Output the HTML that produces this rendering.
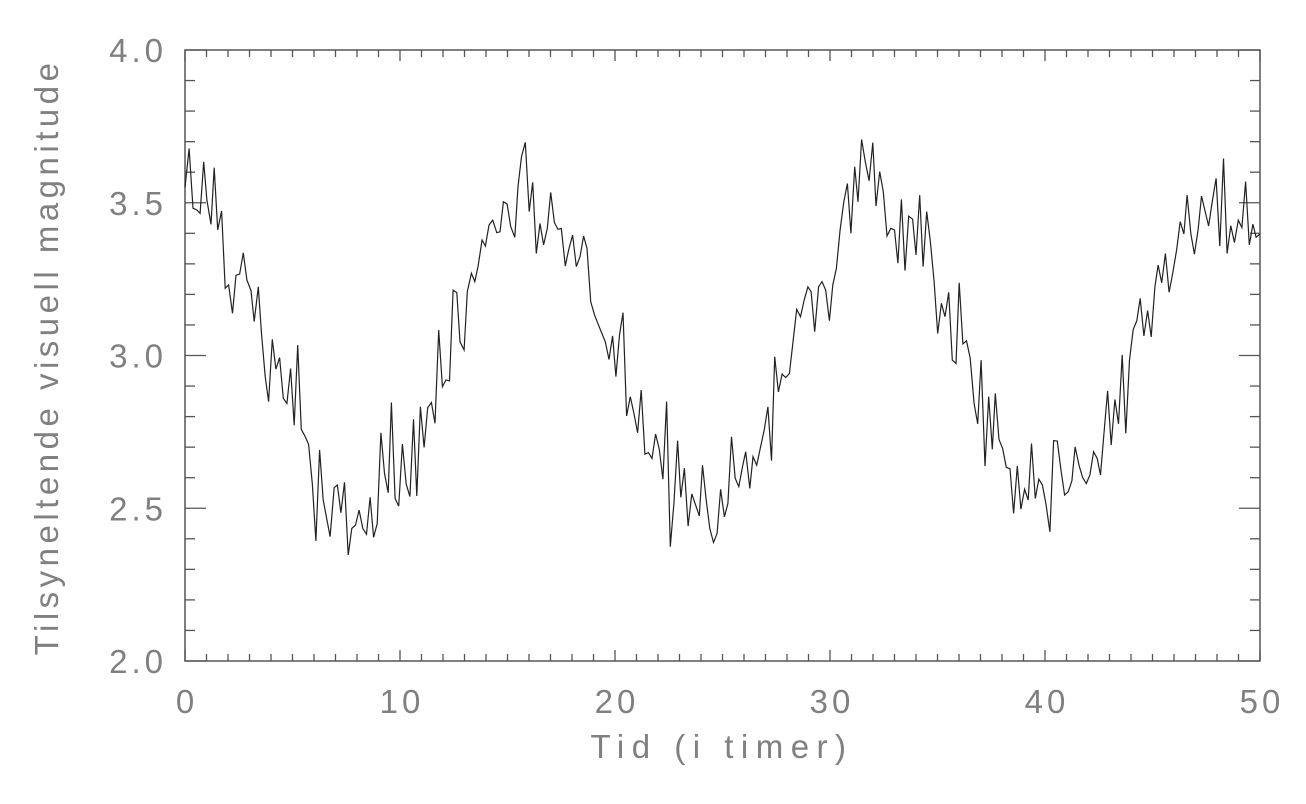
<!DOCTYPE html>
<html><head><meta charset="utf-8"><style>
html,body{margin:0;padding:0;background:#fff;}
svg{display:block;}
text{font-family:"Liberation Sans",sans-serif;fill:#808080;}
</style></head><body>
<svg id="chart" width="1306" height="804" viewBox="0 0 1306 804" xmlns="http://www.w3.org/2000/svg">
<g id="axes"></g>
<g id="series"></g>
<text x="722" y="758" text-anchor="middle" font-size="33" letter-spacing="7.5">Tid (i timer)</text>
<text transform="translate(58,357) rotate(-90)" text-anchor="middle" font-size="33" letter-spacing="4.5">Tilsyneltende visuell magnitude</text>
</svg>
<script>
const times = [0,0.19,0.37,0.56,0.70,0.87,1.02,1.21,1.36,1.52,1.70,1.87,2.03,2.21,2.37,2.54,2.71,2.88,3.07,3.22,3.41,3.56,3.73,3.89,4.06,4.23,4.40,4.57,4.74,4.91,5.08,5.24,5.41,5.58,5.75,5.92,6.09,6.26,6.43,6.75,6.94,7.09,7.25,7.42,7.59,7.76,7.93,8.10,8.27,8.44,8.61,8.77,8.94,9.11,9.28,9.45,9.60,9.77,9.94,10.11,10.29,10.46,10.63,10.78,10.95,11.12,11.29,11.46,11.63,11.80,11.97,12.14,12.30,
12.47,12.64,12.79,12.98,13.13,13.32,13.48,13.63,13.82,13.97,14.14,14.31,14.50,14.65,14.81,14.98,15.15,15.34,15.49,15.65,15.83,16.01,16.17,16.34,16.51,16.68,16.85,17.01,17.18,17.35,17.50,17.69,17.84,18.03,18.20,18.37,18.54,18.70,18.87,19.05,19.22,19.39,19.55,19.72,19.89,20.04,20.21,20.37,20.54,20.71,20.88,21.05,21.22,21.39,21.56,21.72,21.89,22.06,22.23,22.40,22.57,22.74,22.91,23.06,23.23,23.40,23.57,23.75,23.92,24.07,24.24,24.41,24.58,24.75,
24.91,25.09,25.25,25.42,25.59,25.76,25.93,26.08,26.27,26.42,26.59,26.77,26.94,27.11,27.28,27.43,27.60,27.77,27.94,28.11,28.28,28.45,28.63,28.80,28.97,29.12,29.29,29.47,29.63,29.80,29.97,30.13,30.30,30.47,30.64,30.81,30.97,31.15,31.30,31.47,31.64,31.82,31.99,32.14,32.31,32.48,32.65,32.83,33.00,33.16,33.32,33.49,33.66,33.84,34.00,34.17,34.33,34.50,34.67,34.84,35.01,35.18,35.35,35.52,35.69,35.86,36.01,36.18,36.35,36.52,36.70,36.87,37.03,37.21,37.38,37.55,
37.69,37.86,38.03,38.20,38.37,38.54,38.71,38.88,39.05,39.22,39.37,39.55,39.71,39.88,40.05,40.23,40.40,40.57,40.74,40.91,41.08,41.25,41.40,41.58,41.75,41.92,42.09,42.26,42.43,42.58,42.76,42.91,43.08,43.25,43.42,43.59,43.76,43.93,44.10,44.27,44.43,44.60,44.77,44.94,45.11,45.26,45.43,45.60,45.77,45.94,46.12,46.29,46.46,46.61,46.78,46.95,47.12,47.28,47.45,47.61,47.79,47.96,48.13,48.30,48.47,48.64,48.81,48.99,49.16,49.33,49.50,49.67,49.82,50.00];
const magnitudes = [3.55,3.678,3.482,3.476,3.465,3.634,3.509,3.429,3.615,3.411,3.473,3.220,3.231,3.138,3.263,3.266,3.336,3.247,3.212,3.111,3.225,3.072,2.931,2.849,3.053,2.955,2.993,2.860,2.843,2.957,2.772,3.034,2.758,2.736,2.709,2.581,2.393,2.691,2.527,2.407,2.568,2.576,2.485,2.585,2.347,2.434,2.445,2.494,2.434,2.415,2.536,2.405,2.450,2.747,2.614,2.551,2.846,2.532,2.507,2.710,2.579,2.538,2.791,2.540,2.832,2.699,2.829,2.846,2.778,3.083,2.898,2.920,2.917,
3.214,3.206,3.045,3.018,3.209,3.269,3.242,3.291,3.378,3.358,3.427,3.443,3.402,3.405,3.503,3.496,3.422,3.387,3.553,3.651,3.698,3.471,3.567,3.334,3.432,3.362,3.416,3.534,3.435,3.413,3.416,3.293,3.345,3.394,3.291,3.323,3.391,3.351,3.176,3.132,3.102,3.072,3.045,2.987,3.064,2.931,3.067,3.140,2.802,2.865,2.811,2.747,2.887,2.677,2.682,2.663,2.743,2.693,2.595,2.849,2.374,2.516,2.721,2.536,2.631,2.442,2.547,2.511,2.475,2.641,2.527,2.434,2.388,2.418,
2.562,2.472,2.516,2.734,2.598,2.571,2.636,2.685,2.565,2.669,2.641,2.701,2.756,2.832,2.656,2.996,2.881,2.939,2.928,2.941,3.045,3.151,3.127,3.182,3.225,3.209,3.078,3.225,3.242,3.214,3.114,3.231,3.285,3.411,3.503,3.563,3.400,3.618,3.503,3.707,3.634,3.572,3.697,3.489,3.602,3.536,3.391,3.416,3.411,3.302,3.511,3.278,3.456,3.446,3.329,3.525,3.291,3.471,3.372,3.242,3.072,3.171,3.127,3.207,2.985,2.974,3.238,3.038,3.048,2.991,2.843,2.776,2.985,2.638,2.865,2.693,
2.876,2.725,2.696,2.634,2.629,2.483,2.638,2.497,2.562,2.527,2.712,2.532,2.595,2.576,2.511,2.423,2.721,2.720,2.627,2.543,2.554,2.590,2.701,2.641,2.601,2.581,2.609,2.685,2.663,2.609,2.758,2.884,2.707,2.856,2.776,3.002,2.745,2.985,3.085,3.114,3.187,3.064,3.147,3.061,3.225,3.296,3.238,3.334,3.207,3.269,3.345,3.438,3.398,3.525,3.400,3.332,3.411,3.522,3.471,3.424,3.509,3.580,3.358,3.645,3.334,3.425,3.370,3.443,3.419,3.569,3.362,3.430,3.387,3.398];
const xTickLabels = ["0","10","20","30","40","50"];
const yTickLabels = ["2.0","2.5","3.0","3.5","4.0"];

const NS="http://www.w3.org/2000/svg";
const L=185,R=1260,T=50,B=661;
const X0=0,X1=50,Y0=2,Y1=4;
function sx(v){return L+(v-X0)/(X1-X0)*(R-L);}
function sy(v){return B-(v-Y0)/(Y1-Y0)*(B-T);}
const axes=document.getElementById('axes');
function line(x1,y1,x2,y2,name){
  const l=document.createElementNS(NS,'line');
  l.setAttribute('x1',x1);l.setAttribute('y1',y1);l.setAttribute('x2',x2);l.setAttribute('y2',y2);
  l.setAttribute('stroke','#555');l.setAttribute('stroke-width','1.3');
  
  
  axes.appendChild(l);
}
const fr=document.createElementNS(NS,'rect');
fr.setAttribute('x',L);fr.setAttribute('y',T);fr.setAttribute('width',R-L);fr.setAttribute('height',B-T);
fr.setAttribute('fill','none');fr.setAttribute('stroke','#555');fr.setAttribute('stroke-width','1.5');


axes.appendChild(fr);
for(let h=0;h<=50;h++){
  const x=sx(h); const len=(h%10===0)?11:7;
  line(x,B,x,B-len,'x-tick');line(x,T,x,T+len,'x-tick-top');
}
for(let i=0;i<=20;i++){
  const v=2+i*0.1; const y=sy(v); const len=(i%5===0)?21:10;
  line(L,y,L+len,y,'y-tick');line(R,y,R-len,y,'y-tick-right');
}
xTickLabels.forEach(s=>{
  const t=document.createElementNS(NS,'text');
  t.setAttribute('x',sx(parseFloat(s))+2);t.setAttribute('y',713);
  t.setAttribute('text-anchor','middle');t.setAttribute('font-size','33');t.setAttribute('letter-spacing','4');
  t.textContent=s;
  
  
  axes.appendChild(t);
});
yTickLabels.forEach(s=>{
  const t=document.createElementNS(NS,'text');
  t.setAttribute('x',167);t.setAttribute('y',sy(parseFloat(s))+12);
  t.setAttribute('text-anchor','end');t.setAttribute('font-size','33');t.setAttribute('letter-spacing','4');
  t.textContent=s;
  
  
  axes.appendChild(t);
});
const p=document.createElementNS(NS,'polyline');
p.setAttribute('points',times.map((t,i)=>sx(t).toFixed(1)+','+sy(magnitudes[i]).toFixed(1)).join(' '));
p.setAttribute('fill','none');p.setAttribute('stroke','#222');p.setAttribute('stroke-width','1.2');


document.getElementById('series').appendChild(p);
</script>
</body></html>
